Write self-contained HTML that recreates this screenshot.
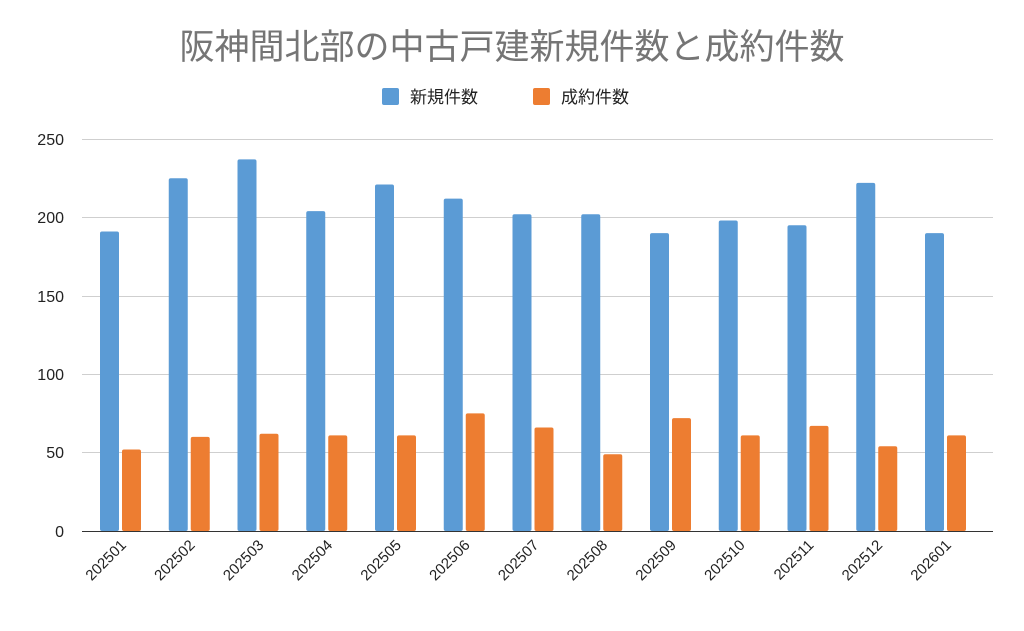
<!DOCTYPE html>
<html><head><meta charset="utf-8"><style>
body{margin:0;background:#fff;}
svg text{font-family:"Liberation Sans","Noto Sans CJK JP",sans-serif;}
</style></head><body>
<svg width="1024" height="626" xmlns="http://www.w3.org/2000/svg">
<rect width="1024" height="626" fill="#fff"/>
<text x="512" y="59" font-size="35" fill="#757575" text-anchor="middle">阪神間北部の中古戸建新規件数と成約件数</text>
<rect x="382" y="88" width="17" height="17" fill="#5b9bd5" rx="2"/>
<text x="410" y="103" font-size="17" fill="#222">新規件数</text>
<rect x="533" y="88" width="17" height="17" fill="#ed7d31" rx="2"/>
<text x="561" y="103" font-size="17" fill="#222">成約件数</text>
<g stroke="#cfcfcf" stroke-width="1">
<line x1="82" x2="993" y1="139.5" y2="139.5"/>
<line x1="82" x2="993" y1="217.5" y2="217.5"/>
<line x1="82" x2="993" y1="296.5" y2="296.5"/>
<line x1="82" x2="993" y1="374.5" y2="374.5"/>
<line x1="82" x2="993" y1="452.5" y2="452.5"/>
</g>
<g font-size="16" fill="#222" text-anchor="end">
<text x="64" y="145">250</text><text x="64" y="223">200</text><text x="64" y="302">150</text>
<text x="64" y="380">100</text><text x="64" y="458">50</text><text x="64" y="537">0</text>
</g>
<g fill="#5b9bd5">
<rect x="100" y="231.5" width="19" height="299.5" rx="2"/>
<rect x="168.75" y="178.2" width="19" height="352.8" rx="2"/>
<rect x="237.5" y="159.4" width="19" height="371.6" rx="2"/>
<rect x="306.25" y="211.1" width="19" height="319.9" rx="2"/>
<rect x="375" y="184.5" width="19" height="346.5" rx="2"/>
<rect x="443.75" y="198.6" width="19" height="332.4" rx="2"/>
<rect x="512.5" y="214.3" width="19" height="316.7" rx="2"/>
<rect x="581.25" y="214.3" width="19" height="316.7" rx="2"/>
<rect x="650" y="233.1" width="19" height="297.9" rx="2"/>
<rect x="718.75" y="220.5" width="19" height="310.5" rx="2"/>
<rect x="787.5" y="225.2" width="19" height="305.8" rx="2"/>
<rect x="856.25" y="182.9" width="19" height="348.1" rx="2"/>
<rect x="925" y="233.1" width="19" height="297.9" rx="2"/>
</g>
<g fill="#ed7d31">
<rect x="122" y="449.5" width="19" height="81.5" rx="2"/>
<rect x="190.75" y="436.9" width="19" height="94.1" rx="2"/>
<rect x="259.5" y="433.8" width="19" height="97.2" rx="2"/>
<rect x="328.25" y="435.4" width="19" height="95.6" rx="2"/>
<rect x="397" y="435.4" width="19" height="95.6" rx="2"/>
<rect x="465.75" y="413.4" width="19" height="117.6" rx="2"/>
<rect x="534.5" y="427.5" width="19" height="103.5" rx="2"/>
<rect x="603.25" y="454.2" width="19" height="76.8" rx="2"/>
<rect x="672" y="418.1" width="19" height="112.9" rx="2"/>
<rect x="740.75" y="435.4" width="19" height="95.6" rx="2"/>
<rect x="809.5" y="425.9" width="19" height="105.1" rx="2"/>
<rect x="878.25" y="446.3" width="19" height="84.7" rx="2"/>
<rect x="947" y="435.4" width="19" height="95.6" rx="2"/>
</g>
<line x1="82" x2="993" y1="531.5" y2="531.5" stroke="#333" stroke-width="1"/>
<g font-size="15" fill="#222" text-anchor="end">
<text transform="translate(127,546) rotate(-45)">202501</text>
<text transform="translate(195.75,546) rotate(-45)">202502</text>
<text transform="translate(264.5,546) rotate(-45)">202503</text>
<text transform="translate(333.25,546) rotate(-45)">202504</text>
<text transform="translate(402,546) rotate(-45)">202505</text>
<text transform="translate(470.75,546) rotate(-45)">202506</text>
<text transform="translate(539.5,546) rotate(-45)">202507</text>
<text transform="translate(608.25,546) rotate(-45)">202508</text>
<text transform="translate(677,546) rotate(-45)">202509</text>
<text transform="translate(745.75,546) rotate(-45)">202510</text>
<text transform="translate(814.5,546) rotate(-45)">202511</text>
<text transform="translate(883.25,546) rotate(-45)">202512</text>
<text transform="translate(952,546) rotate(-45)">202601</text>
</g>
</svg>
</body></html>
